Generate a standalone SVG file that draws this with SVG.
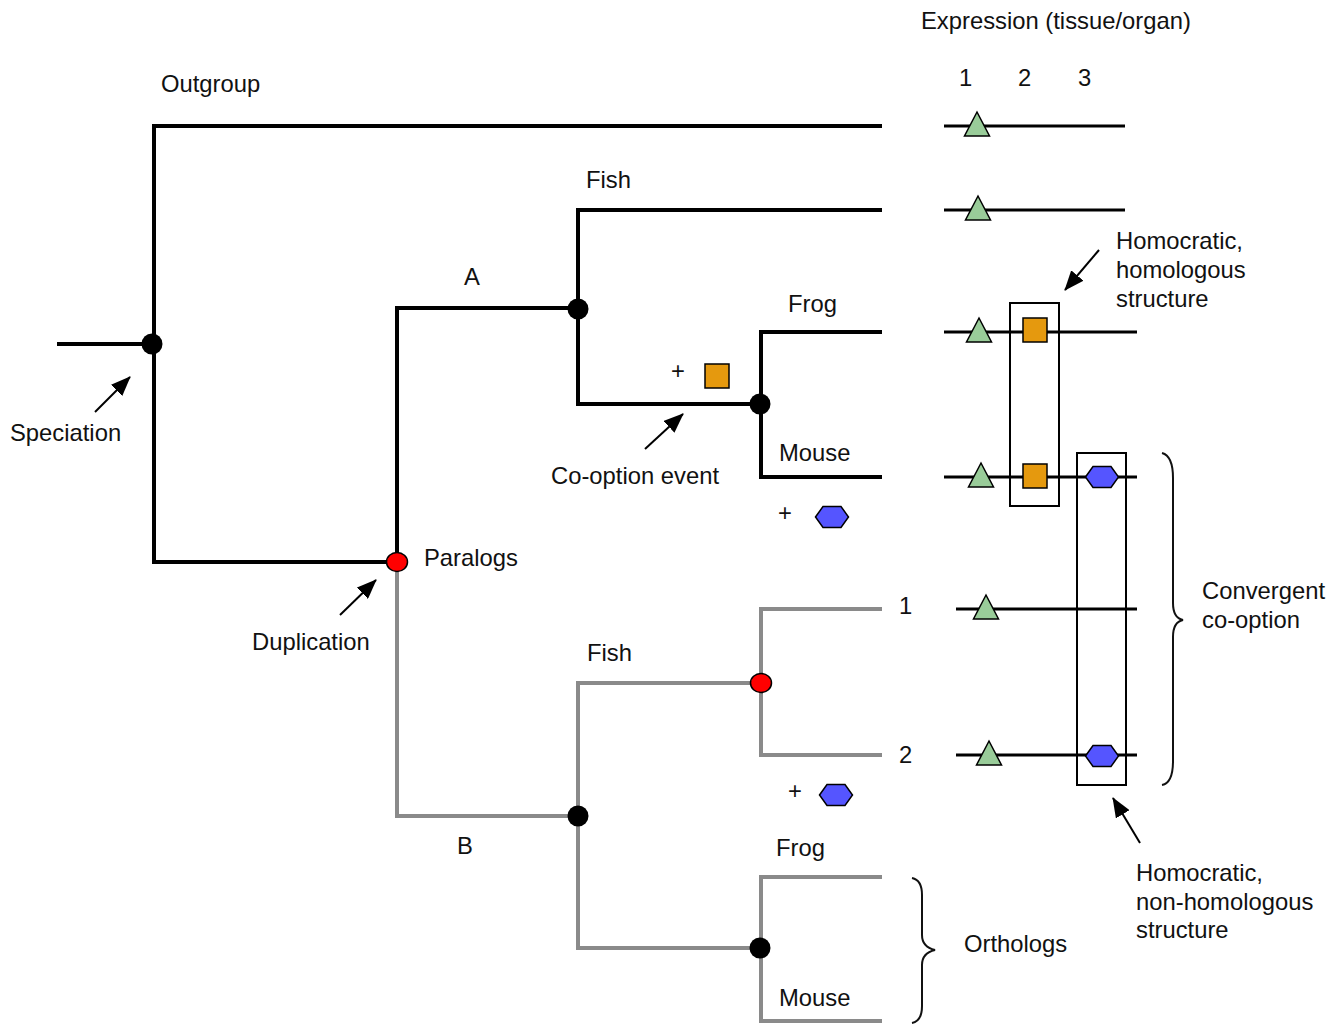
<svg xmlns="http://www.w3.org/2000/svg" xmlns:xlink="http://www.w3.org/1999/xlink" width="1338" height="1025" viewBox="0 0 1338 1025">
<style>
text{font-family:"Liberation Sans",Arial,sans-serif;font-size:23.8px;fill:#111}
.b{stroke:#000;stroke-width:4;fill:none;stroke-linecap:butt;stroke-linejoin:miter}
.g{stroke:#8a8a8a;stroke-width:4;fill:none;stroke-linecap:butt;stroke-linejoin:miter}
.e{stroke:#000;stroke-width:3;fill:none}
.box{stroke:#000;stroke-width:2;fill:none}
.arr{stroke:#000;stroke-width:2;fill:none}
.br{stroke:#111;stroke-width:2;fill:none}
.dot{fill:#000}
.red{fill:#ff0000;stroke:#000;stroke-width:1.5}
</style>
<defs>
<marker id="ah" viewBox="0 0 20 16" refX="19" refY="8" markerWidth="20" markerHeight="16" orient="auto" markerUnits="userSpaceOnUse"><path d="M0,0 L20,8 L0,16 z" fill="#000"/></marker>
<polygon id="tri" points="-12.5,10 12.5,10 0,-14" fill="#99cc99" stroke="#000" stroke-width="1.5"/>
<rect id="sq" x="-12" y="-12" width="24" height="24" fill="#e5990e" stroke="#000" stroke-width="1.5"/>
<polygon id="hex" points="-16.5,0 -9,-10.5 9,-10.5 16.5,0 9,10.5 -9,10.5" fill="#5555ff" stroke="#000" stroke-width="1.5"/>
</defs>
<g id="connectors">
<path class="b" d="M57,344 H153 M154,124 V564 M152,126 H882 M154,562 H397 M397,306 V562 M395,308 H578 M578,208 V406 M576,210 H882 M578,404 H760 M761,330 V479 M759,332 H882 M759,477 H882"/>
<path class="g" d="M397,564 V816 H578 M578,681 V950 M576,683 H760 M761,607 V757 M759,609 H882 M759,755 H882 M578,948 H760 M761,875 V1023 M759,877 H882 M759,1021 H882"/>
<path class="e" d="M944,126 H1125 M944,210 H1125 M944,332 H1137 M944,477 H1137 M956,609 H1137 M956,755 H1137"/>
<line class="arr" x1="95" y1="412" x2="130" y2="377" marker-end="url(#ah)"/>
<line class="arr" x1="645" y1="449" x2="683" y2="414" marker-end="url(#ah)"/>
<line class="arr" x1="340" y1="615" x2="376" y2="580" marker-end="url(#ah)"/>
<line class="arr" x1="1099" y1="250" x2="1065" y2="290" marker-end="url(#ah)"/>
<line class="arr" x1="1140" y1="843" x2="1113" y2="798" marker-end="url(#ah)"/>
</g>
<g id="nodes">
<circle class="dot" cx="152" cy="344" r="10.5"/>
<circle class="dot" cx="578" cy="309" r="10.5"/>
<circle class="dot" cx="760" cy="404" r="10.5"/>
<circle class="dot" cx="578" cy="816" r="10.5"/>
<circle class="dot" cx="760" cy="948" r="10.5"/>
<ellipse class="red" cx="397" cy="562" rx="10.5" ry="9.5"/>
<ellipse class="red" cx="761" cy="683" rx="10.5" ry="9.5"/>
</g>
<g id="expression">
<use xlink:href="#tri" x="977" y="126"/>
<use xlink:href="#tri" x="978" y="210"/>
<use xlink:href="#tri" x="979" y="332"/>
<use xlink:href="#tri" x="981" y="477"/>
<use xlink:href="#tri" x="986" y="609"/>
<use xlink:href="#tri" x="989" y="755"/>
<use xlink:href="#sq" x="1035" y="330"/>
<use xlink:href="#sq" x="1035" y="476"/>
<use xlink:href="#hex" x="1102" y="477"/>
<use xlink:href="#hex" x="1102" y="756"/>
<rect id="box-homologous" class="box" x="1010" y="303" width="49" height="203"/>
<rect id="box-nonhomologous" class="box" x="1077" y="453" width="49" height="332"/>
</g>
<g id="cooption-marks">
<text x="671" y="379">+</text>
<use xlink:href="#sq" x="717" y="376"/>
<text x="778" y="521">+</text>
<use xlink:href="#hex" x="832" y="517"/>
<text x="788" y="799">+</text>
<use xlink:href="#hex" x="836" y="795"/>
</g>
<g id="braces">
<path class="br" d="M1162,453 Q1173,456 1173,478 V603 Q1173,618 1183,620 Q1173,622 1173,637 V761 Q1173,783 1162,785"/>
<path class="br" d="M912,878 Q922,880 922,895 V935 Q922,947 935,950 Q922,953 922,965 V1006 Q922,1021 912,1023"/>
</g>
<g id="labels">
<text x="921" y="29">Expression (tissue/organ)</text>
<text x="959" y="86">1</text>
<text x="1018" y="86">2</text>
<text x="1078" y="86">3</text>
<text x="161" y="92">Outgroup</text>
<text x="586" y="188">Fish</text>
<text x="464" y="285">A</text>
<text x="788" y="312">Frog</text>
<text x="779" y="461">Mouse</text>
<text x="551" y="484">Co-option event</text>
<text x="10" y="441">Speciation</text>
<text x="424" y="566">Paralogs</text>
<text x="252" y="650">Duplication</text>
<text x="587" y="661">Fish</text>
<text x="899" y="614">1</text>
<text x="899" y="763">2</text>
<text x="457" y="854">B</text>
<text x="776" y="856">Frog</text>
<text x="779" y="1006">Mouse</text>
<text x="964" y="952">Orthologs</text>
<text x="1202" y="599">Convergent</text>
<text x="1202" y="628">co-option</text>
<text x="1116" y="249">Homocratic,</text>
<text x="1116" y="278">homologous</text>
<text x="1116" y="307">structure</text>
<text x="1136" y="881">Homocratic,</text>
<text x="1136" y="910">non-homologous</text>
<text x="1136" y="938">structure</text>
</g>
</svg>
